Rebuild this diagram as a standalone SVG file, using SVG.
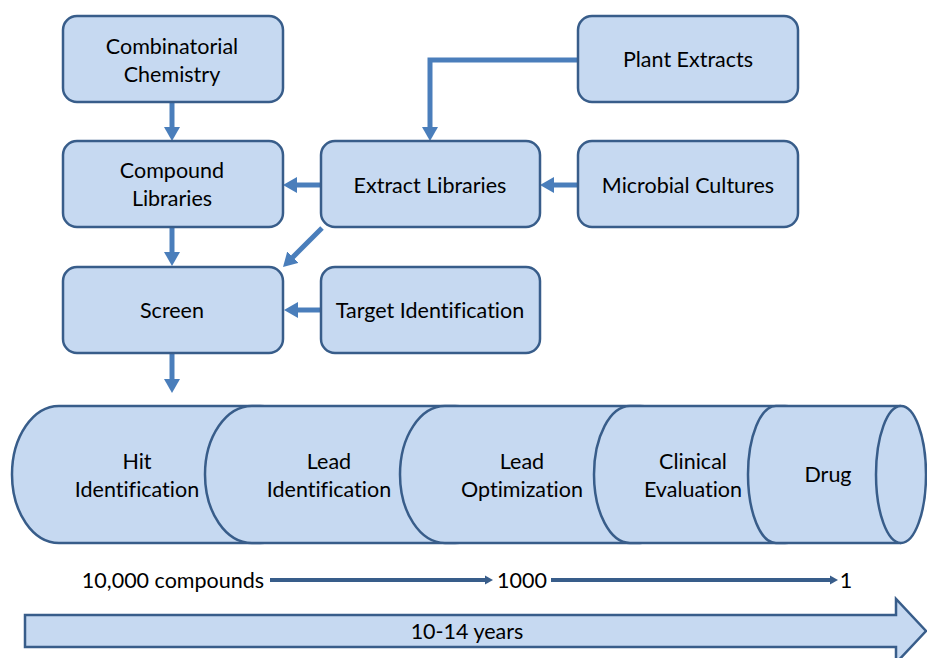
<svg xmlns="http://www.w3.org/2000/svg" width="927" height="658" viewBox="0 0 927 658">
<defs>
<style>
.box{fill:#C6D9F1;stroke:#385D8A;stroke-width:2.5}
.cyl{fill:#C6D9F1;stroke:#385D8A;stroke-width:2.5}
.t{font-family:Lato,"Liberation Sans",sans-serif;font-size:21.5px;fill:#000;text-anchor:middle;font-variant-ligatures:none}
.c{fill:none;stroke:#4A7EBB;stroke-width:5;marker-end:url(#ah)}
.s{fill:none;stroke:#385D8A;stroke-width:4}
</style>
<marker id="ah" markerUnits="userSpaceOnUse" markerWidth="14" markerHeight="16" refX="4" refY="8" orient="auto" viewBox="0 0 14 16">
<path d="M0,0 L14,8 L0,16 z" fill="#4A7EBB"/>
</marker>
</defs>
<rect width="927" height="658" fill="#fff"/>

<g id="connectors">
<path class="c" d="M172,103 L172,131"/>
<path class="c" d="M172,228 L172,256"/>
<path class="c" d="M172,353 L172,383"/>
<path class="c" d="M321,185 L293,185"/>
<path class="c" d="M578,185 L550,185"/>
<path class="c" d="M321,310 L294,310"/>
<path class="c" d="M578,60 L430,60 L430,131"/>
<path class="c" d="M322,228 L290.1,259.9"/>
</g>

<g id="combinatorial-chemistry">
<rect class="box" x="63" y="16" width="220" height="86" rx="14"/>
<text class="t" x="172" y="54">Combinatorial</text>
<text class="t" x="172" y="82">Chemistry</text>
</g>
<g id="compound-libraries">
<rect class="box" x="63" y="141" width="220" height="86" rx="14"/>
<text class="t" x="172" y="178">Compound</text>
<text class="t" x="172" y="206">Libraries</text>
</g>
<g id="screen">
<rect class="box" x="63" y="267" width="220" height="86" rx="14"/>
<text class="t" x="172" y="318">Screen</text>
</g>
<g id="extract-libraries">
<rect class="box" x="321" y="141" width="219" height="86" rx="14"/>
<text class="t" x="430" y="193">Extract Libraries</text>
</g>
<g id="target-identification">
<rect class="box" x="321" y="267" width="219" height="86" rx="14"/>
<text class="t" x="430" y="318">Target Identification</text>
</g>
<g id="plant-extracts">
<rect class="box" x="578" y="16" width="220" height="86" rx="14"/>
<text class="t" x="688" y="67">Plant Extracts</text>
</g>
<g id="microbial-cultures">
<rect class="box" x="578" y="141" width="220" height="86" rx="14"/>
<text class="t" x="688" y="193">Microbial Cultures</text>
</g>

<g id="hit-identification">
<path class="cyl" d="M59,406 L260,406 A47,68.5 0 0 1 260,543 L59,543 A47,68.5 0 0 1 59,406 Z"/>
<text class="t" x="137" y="469">Hit</text>
<text class="t" x="137" y="497">Identification</text>
</g>
<g id="lead-identification">
<path class="cyl" d="M252,406 L455,406 A47,68.5 0 0 1 455,543 L252,543 A47,68.5 0 0 1 252,406 Z"/>
<text class="t" x="329" y="469">Lead</text>
<text class="t" x="329" y="497">Identification</text>
</g>
<g id="lead-optimization">
<path class="cyl" d="M445,406 L640,406 A45,68.5 0 0 1 640,543 L445,543 A45,68.5 0 0 1 445,406 Z"/>
<text class="t" x="522" y="469">Lead</text>
<text class="t" x="522" y="497">Optimization</text>
</g>
<g id="clinical-evaluation">
<path class="cyl" d="M630,406 L785,406 A36,68.5 0 0 1 785,543 L630,543 A36,68.5 0 0 1 630,406 Z"/>
<text class="t" x="693" y="469">Clinical</text>
<text class="t" x="693" y="497">Evaluation</text>
</g>
<g id="drug">
<path class="cyl" d="M776,406 L901,406 A25,68.5 0 0 1 901,543 L776,543 A28,68.5 0 0 1 776,406 Z"/>
<path class="cyl" fill="none" d="M901,406 A25,68.5 0 0 0 901,543"/>
<text class="t" x="828" y="482">Drug</text>
</g>

<g id="counts">
<text class="t" x="173" y="588">10,000 compounds</text>
<path class="s" d="M270,580 L487,580"/>
<path d="M485,575.5 L493,580 L485,584.5 z" fill="#385D8A"/>
<text class="t" x="522" y="588">1000</text>
<path class="s" d="M551,580 L832,580"/>
<path d="M830,575.5 L838,580 L830,584.5 z" fill="#385D8A"/>
<text class="t" x="846" y="588">1</text>
</g>

<g id="timeline">
<path class="box" d="M25,615 L896,615 L896,599 L926,631 L896,663 L896,647 L25,647 Z"/>
<text class="t" x="467" y="639">10-14 years</text>
</g>
</svg>
